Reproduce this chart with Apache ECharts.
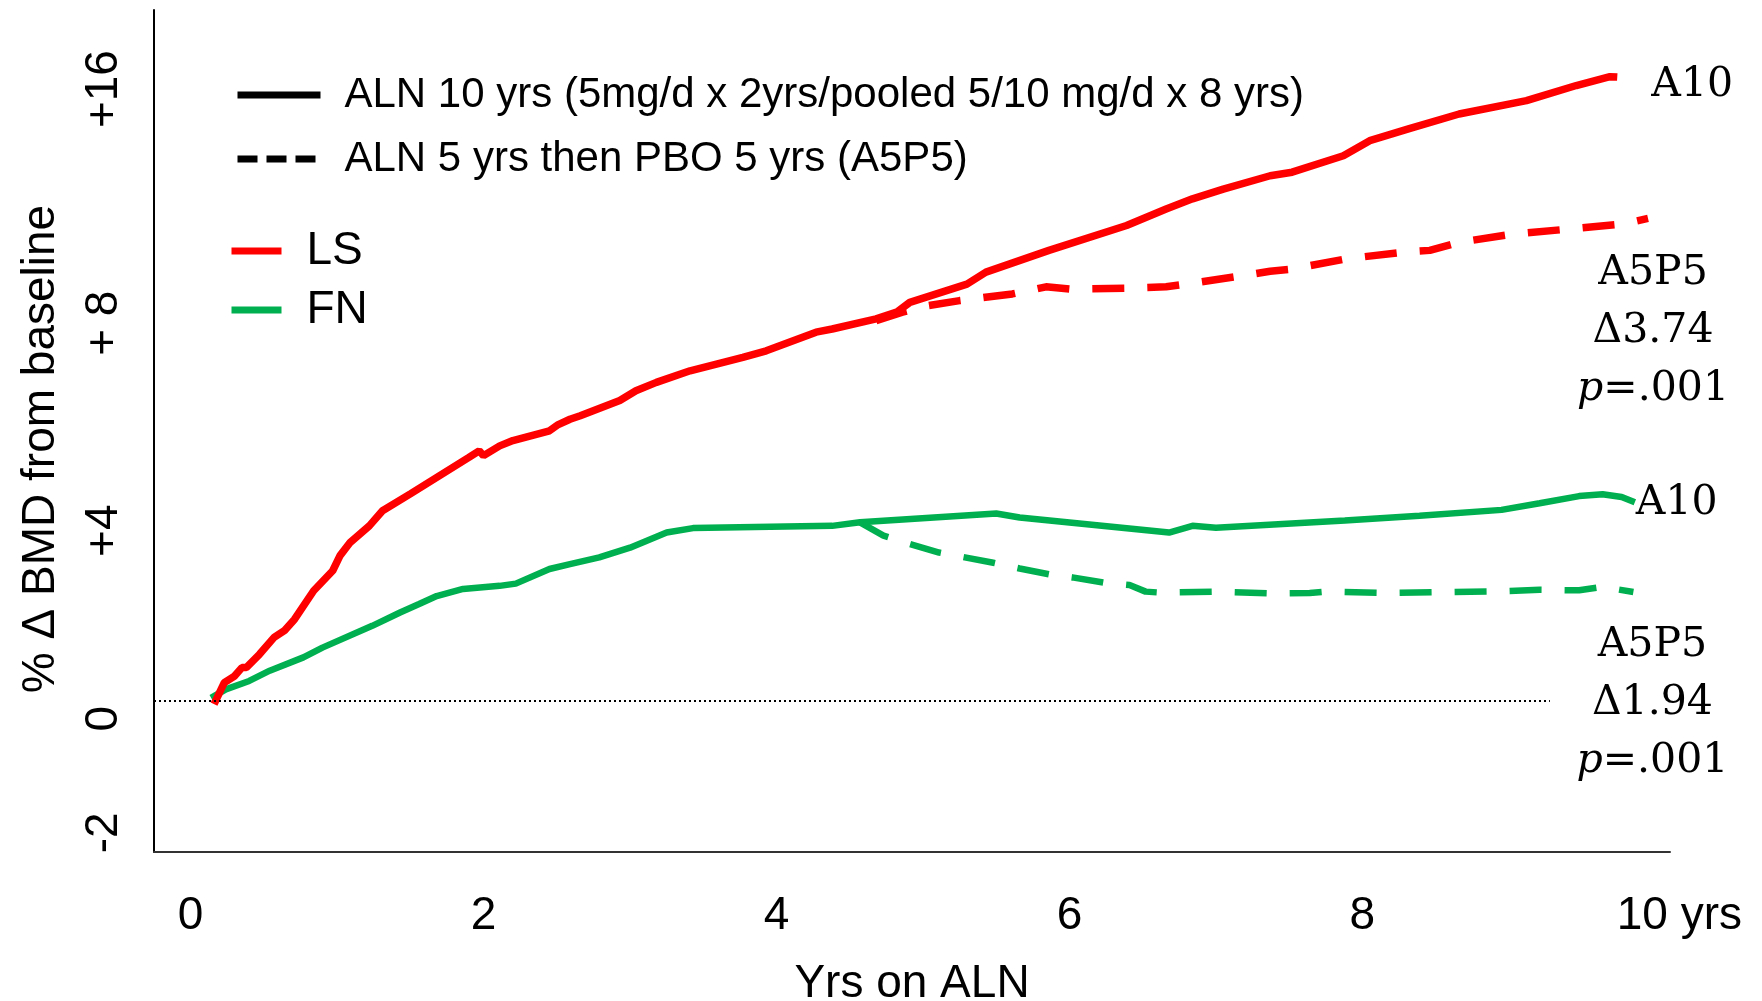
<!DOCTYPE html>
<html lang="en">
<head>
    <meta charset="UTF-8">
    <script src="https://cdn.jsdelivr.net/npm/echarts@6/dist/echarts.min.js"></script>
    <style>
        html, body { margin: 0; padding: 0; background: #fff; }
        #main { width: 1762px; height: 1001px; }
    </style>
</head>
<body>
    <div id="main"></div>
</body>
<script>
    // ---- data: [years on ALN, % change in BMD] ----
    var lsAln10 = [
        [0.16,-0.07],[0.23,0.41],[0.30,0.56],[0.35,0.75],[0.38,0.75],[0.47,1.05],[0.57,1.43],
        [0.64,1.58],[0.71,1.84],[0.84,2.48],[0.97,2.93],[1.02,3.27],[1.09,3.57],[1.22,3.94],
        [1.31,4.28],[1.50,4.66],[1.70,5.07],[1.90,5.48],[1.97,5.63],[2.00,5.52],[2.11,5.74],
        [2.20,5.86],[2.45,6.08],[2.51,6.22],[2.59,6.34],[2.66,6.42],[2.93,6.76],[3.04,6.98],
        [3.18,7.17],[3.41,7.43],[3.77,7.73],[3.93,7.88],[4.27,8.30],[4.38,8.37],[4.68,8.60],
        [4.82,8.75],[4.91,8.97],[5.30,9.38],[5.43,9.65],[5.86,10.14],[6.39,10.70],[6.66,11.07],
        [6.84,11.30],[7.05,11.52],[7.37,11.82],[7.52,11.90],[7.87,12.27],[8.05,12.61],
        [8.32,12.88],[8.66,13.21],[9.12,13.51],[9.46,13.85],[9.69,14.05],[9.74,14.04]
    ];
    var lsA5P5 = [
        [4.68,8.56],[4.86,8.75],[5.04,8.90],[5.25,9.01],[5.61,9.16],[5.84,9.32],[6.00,9.27],
        [6.39,9.29],[6.66,9.32],[6.77,9.37],[7.14,9.55],[7.37,9.67],[7.52,9.72],[7.89,9.95],
        [8.28,10.10],[8.46,10.14],[8.66,10.32],[9.03,10.51],[9.41,10.62],[9.79,10.74],[9.95,10.86]
    ];
    var fnAln10 = [
        [0.14,0.07],[0.24,0.26],[0.40,0.45],[0.54,0.68],[0.77,0.98],[0.90,1.20],[1.24,1.69],
        [1.43,1.99],[1.56,2.18],[1.68,2.36],[1.86,2.52],[2.11,2.59],[2.22,2.64],[2.45,2.97],
        [2.59,3.08],[2.79,3.23],[3.00,3.45],[3.25,3.79],[3.43,3.89],[4.38,3.94],[4.57,4.02],
        [5.50,4.22],[5.66,4.13],[6.68,3.79],[6.84,3.94],[7.00,3.90],[7.88,4.06],[8.39,4.17],
        [8.95,4.30],[9.21,4.45],[9.48,4.61],[9.64,4.65],[9.77,4.59],[9.86,4.47]
    ];
    var fnA5P5 = [
        [4.57,4.02],[4.73,3.72],[4.91,3.53],[5.11,3.34],[5.48,3.11],[5.66,2.98],[5.86,2.85],
        [6.02,2.78],[6.24,2.66],[6.41,2.61],[6.52,2.46],[6.61,2.44],[7.00,2.46],[7.38,2.42],
        [7.64,2.43],[7.75,2.46],[8.14,2.43],[8.55,2.45],[8.95,2.47],[9.21,2.50],[9.48,2.49],
        [9.64,2.57],[9.85,2.45]
    ];

    var xTickValues = [0, 2, 4, 6, 8, 10];
    var xTickLabels = ['0', '2', '4', '6', '8', '10 yrs'];
    // the y labels of the original sit where the slide put them, not on an even scale
    var yTickValues = [-2.97, -0.40, 3.83, 8.50, 13.77];
    var yTickLabels = ['-2', '0', '+4', '+ 8', '+16'];

    var legendAln10 = 'ALN 10 yrs (5mg/d x 2yrs/pooled 5/10 mg/d x 8 yrs)';
    var legendA5P5 = 'ALN 5 yrs then PBO 5 yrs (A5P5)';

    var SANS = 'Liberation Sans, Arial, sans-serif';
    var SERIF = 'DejaVu Serif, serif';
    var RED = '#ff0000', GREEN = '#00b050';

    function pick(values, labels, v) {
        var best = 0;
        for (var i = 1; i < values.length; i++) {
            if (Math.abs(values[i] - v) < Math.abs(values[best] - v)) best = i;
        }
        return labels[best];
    }

    var noteRich = {
        n: { fontFamily: SERIF, fontSize: 41, color: '#000', lineHeight: 58 },
        i: { fontFamily: SERIF, fontSize: 41, color: '#000', lineHeight: 58, fontStyle: 'italic' }
    };

    var myChart = echarts.init(document.getElementById('main'));
    var option = {
        animation: false,
        backgroundColor: '#fff',
        grid: { left: 154, right: 92, top: 10, bottom: 149, outerBoundsMode: 'none', containLabel: false },
        legend: [
            {
                data: [legendAln10, legendA5P5],
                orient: 'vertical', left: 234, top: 74, padding: 0,
                itemWidth: 83, itemHeight: 14, itemGap: 22,
                selectedMode: false,
                itemStyle: { opacity: 0 },
                lineStyle: { width: 7 },
                textStyle: { fontFamily: SANS, fontSize: 42, color: '#000', padding: [0, 0, 0, 19] }
            },
            {
                data: ['LS', 'FN'],
                orient: 'vertical', left: 228, top: 228, padding: 0,
                itemWidth: 50, itemHeight: 14, itemGap: 13,
                selectedMode: false,
                itemStyle: { opacity: 0 },
                lineStyle: { width: 7 },
                textStyle: { fontFamily: SANS, fontSize: 46, color: '#000', padding: [0, 0, 0, 20] }
            }
        ],
        xAxis: {
            type: 'value', min: -0.25, max: 10.1,
            axisLine: { onZero: false, lineStyle: { color: '#333', width: 2 } },
            axisTick: { show: false },
            splitLine: { show: false },
            axisLabel: {
                customValues: xTickValues,
                margin: 41,
                fontFamily: SANS, fontSize: 46, color: '#000',
                formatter: function (v) {
                    var t = pick(xTickValues, xTickLabels, v);
                    return v >= 10 ? '{s|' + t + '}' : t;
                },
                rich: { s: { fontFamily: SANS, fontSize: 46, color: '#000', padding: [0, 0, 0, 48] } }
            },
            name: 'Yrs on ALN', nameLocation: 'middle', nameGap: 109,
            nameTextStyle: { fontFamily: SANS, fontSize: 46, color: '#000' }
        },
        yAxis: {
            type: 'value', min: -3.4, max: 15.55,
            axisLine: { show: true, onZero: false, lineStyle: { color: '#000', width: 2 } },
            axisTick: { show: false },
            splitLine: { show: false },
            axisLabel: {
                customValues: yTickValues,
                rotate: 90, margin: 27,
                fontFamily: SANS, fontSize: 46, color: '#000',
                formatter: function (v) { return pick(yTickValues, yTickLabels, v); }
            },
            name: '% \u0394 BMD from baseline', nameLocation: 'middle', nameRotate: 90, nameGap: 90,
            nameTextStyle: { fontFamily: SANS, fontSize: 46, color: '#000', padding: [0, 36, 0, 0] }
        },
        series: [
            // legend-only entries
            { name: legendAln10, type: 'line', data: [], symbol: 'none', showSymbol: false, color: '#000',
              lineStyle: { color: '#000', width: 7 } },
            { name: legendA5P5, type: 'line', data: [], symbol: 'none', showSymbol: false, color: '#000',
              lineStyle: { color: '#000', width: 7, type: [20, 9] } },
            { name: 'LS', type: 'line', data: [], symbol: 'none', showSymbol: false, color: RED,
              lineStyle: { color: RED, width: 7 } },
            { name: 'FN', type: 'line', data: [], symbol: 'none', showSymbol: false, color: GREEN,
              lineStyle: { color: GREEN, width: 7 } },

            {
                name: 'FN A10', type: 'line', data: fnAln10, symbol: 'none', color: GREEN,
                lineStyle: { color: GREEN, width: 6.5 },
                markLine: {
                    silent: true, symbol: 'none', label: { show: false },
                    lineStyle: { color: '#000', width: 2, type: [2, 3] },
                    data: [[{ coord: [-0.25, 0] }, { coord: [9.28, 0] }]]
                },
                endLabel: { show: true, formatter: 'A10', fontFamily: SERIF, fontSize: 41, color: '#000',
                            distance: 1, offset: [0, 1] }
            },
            {
                name: 'FN A5P5', type: 'line', data: fnA5P5, symbol: 'none', color: GREEN,
                lineStyle: { color: GREEN, width: 6.5, type: [32, 23] },
                endLabel: { show: true, formatter: '{n|A5P5}\n{n|\u03941.94}\n{i|p}{n|=.001}', rich: noteRich,
                            align: 'center', verticalAlign: 'top', distance: 0, offset: [19, 24] }
            },
            {
                name: 'LS A10', type: 'line', data: lsAln10, symbol: 'none', color: RED,
                lineStyle: { color: RED, width: 7.5 },
                endLabel: { show: true, formatter: 'A10', fontFamily: SERIF, fontSize: 41, color: '#000',
                            distance: 34, offset: [0, 8] }
            },
            {
                name: 'LS A5P5', type: 'line', data: lsA5P5, symbol: 'none', color: RED,
                lineStyle: { color: RED, width: 7.5, type: [32, 23] },
                endLabel: { show: true, formatter: '{n|A5P5}\n{n|\u03943.74}\n{i|p}{n|=.001}', rich: noteRich,
                            align: 'center', verticalAlign: 'top', distance: 0, offset: [5, 26] }
            }
        ]
    };
    myChart.setOption(option);
    window.onresize = function () {
        myChart.resize();
    };
</script>
</html>
